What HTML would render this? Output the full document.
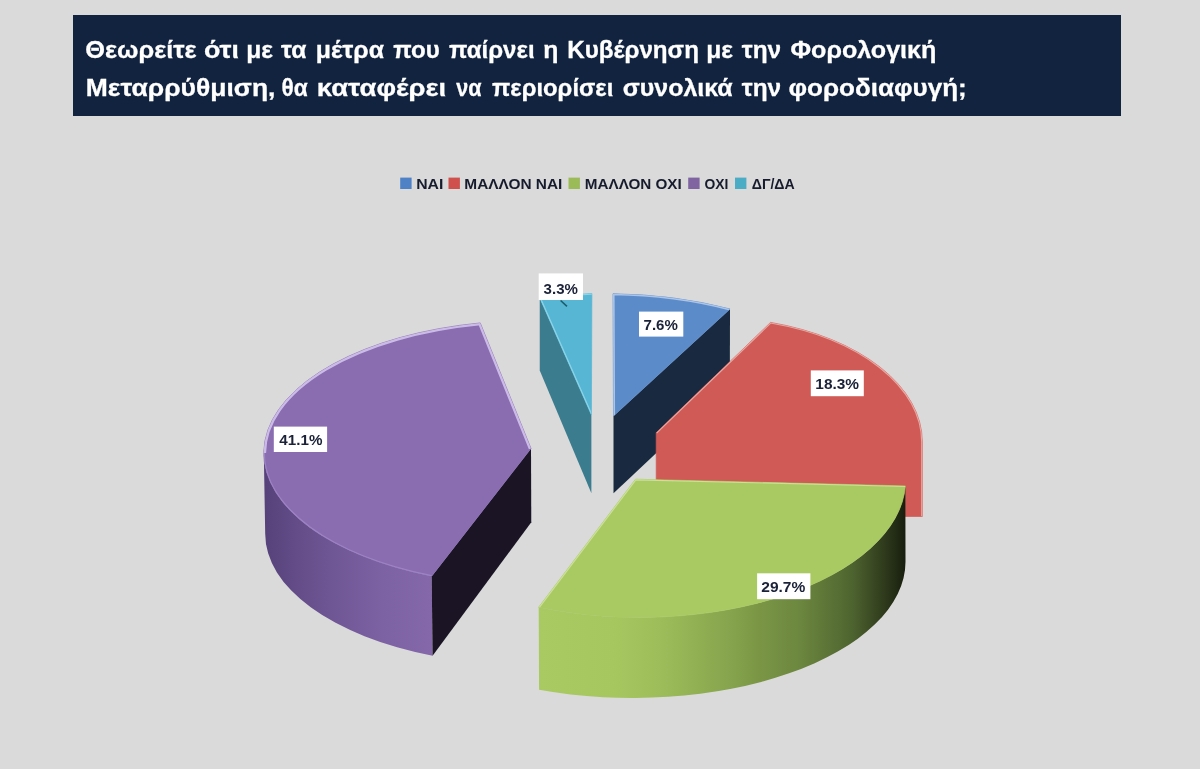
<!DOCTYPE html>
<html lang="el"><head><meta charset="utf-8"><title>Chart</title>
<style>
html,body{margin:0;padding:0;background:#dadada;}
body{width:1200px;height:769px;overflow:hidden;}
svg{display:block;}
text{font-family:"Liberation Sans",sans-serif;font-weight:bold;}
.tt{font-size:24.5px;fill:#ffffff;stroke:#ffffff;stroke-width:0.3px;}
.lg{font-size:14px;fill:#161c2e;}
.lb{font-size:15px;fill:#1b2238;}
</style></head><body>
<svg width="1200" height="769" viewBox="0 0 1200 769">
<rect width="1200" height="769" fill="#dadada"/>
<defs>
<linearGradient id="gp" gradientUnits="userSpaceOnUse" x1="264" y1="0" x2="433" y2="0">
<stop offset="0" stop-color="#56427a"/><stop offset="0.25" stop-color="#674f8c"/><stop offset="0.7" stop-color="#7d62a3"/><stop offset="1" stop-color="#8468aa"/></linearGradient>
<linearGradient id="gg" gradientUnits="userSpaceOnUse" x1="539" y1="0" x2="906" y2="0">
<stop offset="0" stop-color="#a9ca62"/><stop offset="0.2" stop-color="#a6c760"/><stop offset="0.33" stop-color="#9dbd5a"/><stop offset="0.52" stop-color="#86a44d"/><stop offset="0.6" stop-color="#7a9645"/><stop offset="0.71" stop-color="#6c873f"/><stop offset="0.85" stop-color="#4f6530"/><stop offset="0.94" stop-color="#2f3b1c"/><stop offset="1" stop-color="#171d0e"/></linearGradient>
</defs>
<path d="M 539.75 298.00 L 591.40 415.00 L 591.40 493.20 L 539.75 370.50 Z" fill="#3b7c8e"/>
<clipPath id="ccy"><path d="M 539.75 298.00 Q 566 294.5 591.90 293.50 L 591.40 415.00 Z"/></clipPath>
<path d="M 539.75 298.00 Q 566 294.5 591.90 293.50 L 591.40 415.00 Z" fill="#56b6d4" stroke="#56b6d4" stroke-width="0.7" stroke-linejoin="round"/>
<path d="M 591.40 415.00 L 539.75 298.00 Q 566 294.5 591.90 293.50" fill="none" stroke="#9adcee" stroke-width="2.4" stroke-opacity="0.8" clip-path="url(#ccy)"/>
<path d="M 613.50 416.00 L 730.02 308.99 L 729.80 384.00 L 613.50 493.20 Z" fill="#19293f"/>
<clipPath id="cb"><path d="M 613.50 416.00 L 613.00 293.75 A 268.0 134.0 0 0 1 730.02 308.99 Z"/></clipPath>
<path d="M 613.50 416.00 L 613.00 293.75 A 268.0 134.0 0 0 1 730.02 308.99 Z" fill="#5b8bc8" stroke="#5b8bc8" stroke-width="0.7" stroke-linejoin="round"/>
<path d="M 613.50 416.00 L 613.00 293.75 A 268.0 134.0 0 0 1 730.02 308.99" fill="none" stroke="#b4caec" stroke-width="3.2" stroke-opacity="0.9" clip-path="url(#cb)"/>
<clipPath id="cr"><path d="M 656.20 432.70 L 770.55 322.40 A 211.0 124.4 0 0 1 922.30 441.80 L 922.3 516.5 L 656.2 516.5 Z"/></clipPath>
<path d="M 656.20 432.70 L 770.55 322.40 A 211.0 124.4 0 0 1 922.30 441.80 L 922.3 516.5 L 656.2 516.5 Z" fill="#d05a56" stroke="#d05a56" stroke-width="0.7" stroke-linejoin="round"/>
<path d="M 656.20 432.70 L 770.55 322.40 A 211.0 124.4 0 0 1 922.30 441.80 L 922.3 516.5" fill="none" stroke="#f0b9b3" stroke-width="2.4" stroke-opacity="0.8" clip-path="url(#cr)"/>
<path d="M 263.80 453.10 A 267.5 132.6 0 0 0 431.68 576.16 L 432.59 655.71 A 264.0 131.0 0 0 1 265.20 533.80 Z" fill="url(#gp)"/>
<path d="M 531.00 448.50 L 431.68 576.16 L 432.59 655.71 L 531.30 522.30 Z" fill="#1a1424"/>
<clipPath id="cp"><path d="M 531.00 448.50 L 480.24 322.94 A 267.5 132.6 0 0 0 431.68 576.16 Z"/></clipPath>
<path d="M 531.00 448.50 L 480.24 322.94 A 267.5 132.6 0 0 0 431.68 576.16 Z" fill="#8a6cb1" stroke="#8a6cb1" stroke-width="0.7" stroke-linejoin="round"/>
<path d="M 531.00 448.50 L 480.24 322.94 A 267.5 132.6 0 0 0 263.80 453.10" fill="none" stroke="#cfc0ea" stroke-width="4.6" stroke-opacity="0.95" clip-path="url(#cp)"/>
<path d="M 263.80 453.10 A 267.5 132.6 0 0 0 431.68 576.16" fill="none" stroke="#a58bcc" stroke-width="2.4" stroke-opacity="0.7" clip-path="url(#cp)"/>
<path d="M 538.70 607.23 A 266.3 137.3 0 0 0 905.36 485.90 L 905.50 561.70 A 273.2 136.3 0 0 1 539.07 689.82 Z" fill="url(#gg)"/>
<clipPath id="cg"><path d="M 635.50 479.20 L 905.36 485.90 A 266.3 137.3 0 0 1 538.70 607.23 Z"/></clipPath>
<path d="M 635.50 479.20 L 905.36 485.90 A 266.3 137.3 0 0 1 538.70 607.23 Z" fill="#a9ca62" stroke="#a9ca62" stroke-width="0.7" stroke-linejoin="round"/>
<path d="M 538.70 607.23 L 635.50 479.20 L 905.36 485.90" fill="none" stroke="#d3e6a4" stroke-width="2.4" stroke-opacity="0.8" clip-path="url(#cg)"/>
<rect x="273.8" y="426.6" width="53.3" height="25.4" fill="#ffffff"/>
<text transform="translate(279.37 445.30) scale(1.0137 1)" class="lb">41.1%</text>
<rect x="538.7" y="273.4" width="44.3" height="26.6" fill="#ffffff"/>
<text transform="translate(543.62 294.00) scale(1.0045 1)" class="lb">3.3%</text>
<rect x="639.0" y="311.6" width="44.3" height="25.0" fill="#ffffff"/>
<text transform="translate(643.52 330.30) scale(1.0045 1)" class="lb">7.6%</text>
<rect x="810.8" y="370.4" width="53.0" height="25.8" fill="#ffffff"/>
<text transform="translate(815.30 389.20) scale(1.0298 1)" class="lb">18.3%</text>
<rect x="757.1" y="573.3" width="53.3" height="25.9" fill="#ffffff"/>
<text transform="translate(761.26 592.10) scale(1.0378 1)" class="lb">29.7%</text>
<path d="M 560.6 300.5 L 567 306.3" stroke="#1f5c6c" stroke-width="1.6" fill="none"/>
<rect x="73" y="15" width="1048" height="101" fill="#12233f"/>
<text transform="translate(85.23 57.50) scale(1.0369 1)" class="tt">Θεωρείτε </text>
<text transform="translate(203.93 57.50) scale(1.0951 1)" class="tt">ότι </text>
<text transform="translate(246.28 57.50) scale(1.0050 1)" class="tt">με </text>
<text transform="translate(281.00 57.50) scale(1.0053 1)" class="tt">τα </text>
<text transform="translate(315.76 57.50) scale(1.0147 1)" class="tt">μέτρα </text>
<text transform="translate(393.27 57.50) scale(0.9822 1)" class="tt">που </text>
<text transform="translate(449.02 57.50) scale(0.9825 1)" class="tt">παίρνει </text>
<text transform="translate(543.14 57.50) scale(1.0101 1)" class="tt">η </text>
<text transform="translate(567.18 57.50) scale(0.9878 1)" class="tt">Κυβέρνηση </text>
<text transform="translate(706.28 57.50) scale(1.0050 1)" class="tt">με </text>
<text transform="translate(741.76 57.50) scale(0.9974 1)" class="tt">την </text>
<text transform="translate(790.50 57.50) scale(1.0240 1)" class="tt">Φορολογική </text>
<text transform="translate(85.78 96.40) scale(1.0814 1)" class="tt">Μεταρρύθμιση, </text>
<text transform="translate(281.48 96.40) scale(0.9276 1)" class="tt">θα </text>
<text transform="translate(316.83 96.40) scale(1.1202 1)" class="tt">καταφέρει </text>
<text transform="translate(456.25 96.40) scale(0.8797 1)" class="tt">να </text>
<text transform="translate(492.02 96.40) scale(0.9747 1)" class="tt">περιορίσει </text>
<text transform="translate(622.75 96.40) scale(1.0192 1)" class="tt">συνολικά </text>
<text transform="translate(741.76 96.40) scale(0.9974 1)" class="tt">την </text>
<text transform="translate(788.46 96.40) scale(1.0629 1)" class="tt">φοροδιαφυγή; </text>
<rect x="400.2" y="177.6" width="11.4" height="11.4" fill="#4f81c7"/>
<text transform="translate(416.17 189.20) scale(1.1276 1)" class="lg">ΝΑΙ</text>
<rect x="448.5" y="177.6" width="11.4" height="11.4" fill="#d0504d"/>
<text transform="translate(464.30 189.20) scale(1.1018 1)" class="lg">ΜΑΛΛΟΝ ΝΑΙ</text>
<rect x="568.5" y="177.6" width="11.4" height="11.4" fill="#9bbb59"/>
<text transform="translate(584.81 189.20) scale(1.0892 1)" class="lg">ΜΑΛΛΟΝ ΟΧΙ</text>
<rect x="688.2" y="177.6" width="11.4" height="11.4" fill="#8064a2"/>
<text transform="translate(704.55 189.20) scale(0.9907 1)" class="lg">ΟΧΙ</text>
<rect x="735.0" y="177.6" width="11.4" height="11.4" fill="#4bacc6"/>
<text transform="translate(751.73 189.20) scale(1.0125 1)" class="lg">ΔΓ/ΔΑ</text>
</svg>
</body></html>
